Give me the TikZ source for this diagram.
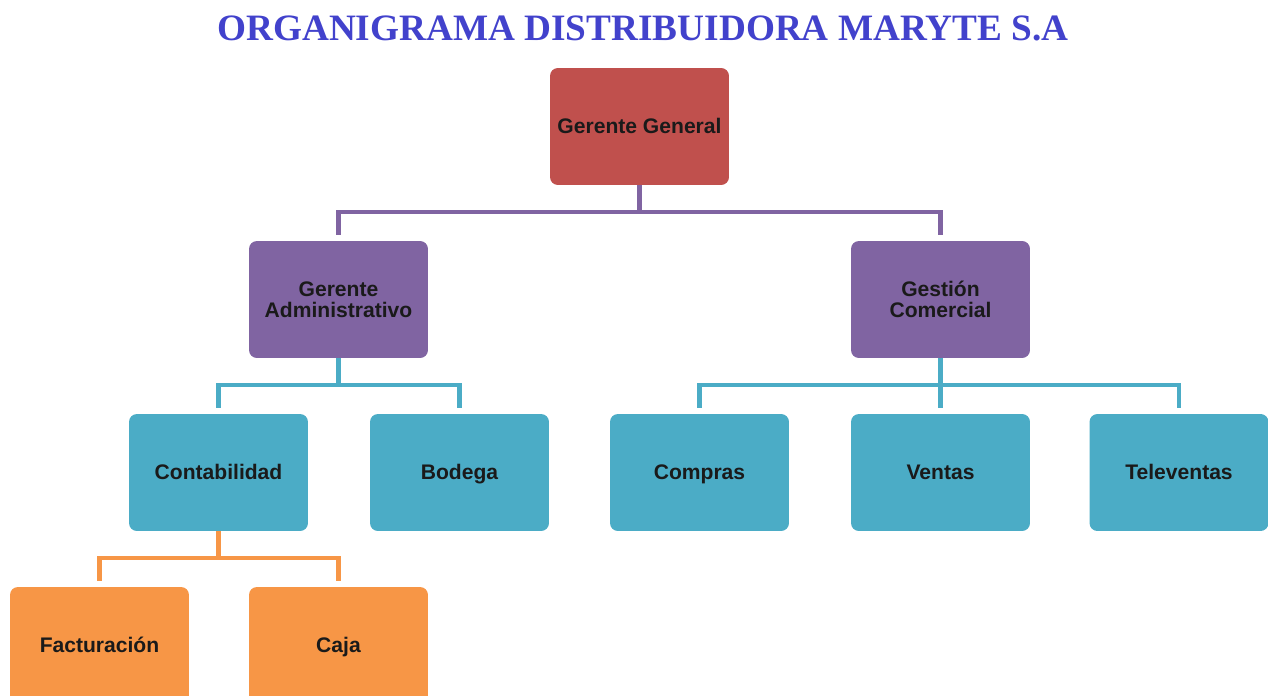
\documentclass[tikz,border=0pt]{standalone}
\usepackage{fontspec}
\setmainfont{Liberation Sans}
\newfontfamily\titlefont{Liberation Serif}
\usetikzlibrary{positioning,calc}

\definecolor{rojoGG}{HTML}{C0504D}
\definecolor{moradoG}{HTML}{8064A2}
\definecolor{azulD}{HTML}{4BACC6}
\definecolor{naranjaA}{HTML}{F79646}
\definecolor{tituloazul}{RGB}{66,66,204}
\definecolor{textobox}{HTML}{1A1A1A}

\tikzset{caja/.style={draw=none, rounded corners=4.5pt, minimum width=3.58cm, minimum height=2.34cm,
    align=center, text=textobox, font=\fontsize{12}{12}\selectfont\bfseries}}
\tikzset{una/.style={caja, text height=1.6ex, text depth=0.15ex}}
\tikzset{linea/.style={line width=2.3pt, shorten >=3.5pt}}

\begin{document}
\begin{tikzpicture}[x=0.02cm, y=-0.02cm]

\clip (0,0) rectangle (1268,696);

\node[text=tituloazul, font=\titlefont\fontsize{21.2}{24}\selectfont\bfseries] (titulo) at (643,28)
    {ORGANIGRAMA DISTRIBUIDORA MARYTE S.A};

% nivel 1
\node[una, fill=rojoGG] (gg) at (639.5,126.5) {Gerente General};

% nivel 2
\node[caja, fill=moradoG] (ga) at (338.5,299.5) {Gerente\\Administrativo};
\node[caja, fill=moradoG] (gc) at (940.5,299.5) {Gestión\\Comercial};

% nivel 3
\node[una, fill=azulD] (cont) at (218.5,472.5) {Contabilidad};
\node[una, fill=azulD] (bod) at (459.5,472.5) {Bodega};
\node[una, fill=azulD] (comp) at (699.5,472.5) {Compras};
\node[una, fill=azulD] (vent) at (940.5,472.5) {Ventas};
\node[una, fill=azulD] (telev) at (1179,472.5) {Televentas};

% nivel 4
\node[una, fill=naranjaA] (fact) at (99.5,645.5) {Facturación};
\node[una, fill=naranjaA] (caj) at (338.5,645.5) {Caja};

% conectores
\draw[linea, draw=moradoG, shorten >=0pt] (gg.south) -- ++(0,27) coordinate (b1);
\draw[linea, draw=moradoG] (b1) -| (ga.north);
\draw[linea, draw=moradoG] (b1) -| (gc.north);

\draw[linea, draw=azulD, shorten >=0pt] (ga.south) -- ++(0,27) coordinate (b2);
\draw[linea, draw=azulD] (b2) -| (cont.north);
\draw[linea, draw=azulD] (b2) -| (bod.north);

\draw[linea, draw=azulD, shorten >=0pt] (gc.south) -- ++(0,27) coordinate (b3);
\draw[linea, draw=azulD] (b3) -| (comp.north);
\draw[linea, draw=azulD] (b3) -- (vent.north);
\draw[linea, draw=azulD] (b3) -| (telev.north);

\draw[linea, draw=naranjaA, shorten >=0pt] (cont.south) -- ++(0,27) coordinate (b4);
\draw[linea, draw=naranjaA] (b4) -| (fact.north);
\draw[linea, draw=naranjaA] (b4) -| (caj.north);

\end{tikzpicture}
\end{document}
